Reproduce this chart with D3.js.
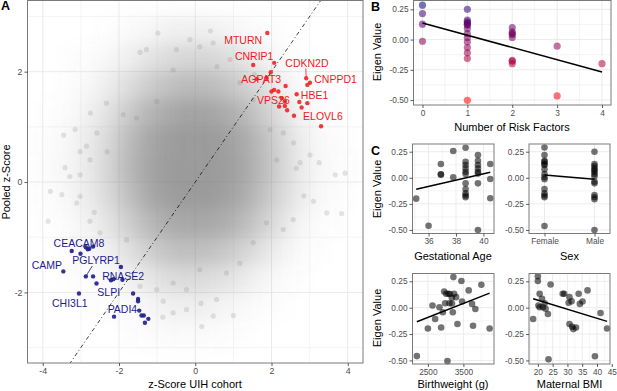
<!DOCTYPE html>
<html><head><meta charset="utf-8">
<script src="https://cdn.jsdelivr.net/npm/d3@7"></script>
<style>
body{margin:0;background:#fff;}
svg{display:block;font-family:"Liberation Sans",Arial,sans-serif;}
</style></head><body>
<svg id="c" width="617" height="391"></svg>
<script>
// ---------- Panel A data ----------
const cloudX = [-0.98,0.4,-2.33,-3.8,-3.42,-3.29,-3.02,-1.89,-1.54,-1.01,-0.49,-0.14,-1.28,-0.58,3.93,3.67,3.01,2.75,2.58,2.31,2.14,1.96,1.52,1.17,0.91,0.47,0.12,0.57,-3.02,-2.31,-2.76,-2.58,
  -3.86,-3.11,-2.76,-2.5,-1.8,-1.45,-1.01,-0.84,-0.58,-0.23,0.17,0.47,1.0,0.56,-0.58,3.45,3.84,3.1,2.31,1.87,1.52,2.57,1.17,0.82,0.12,-0.23,-3.02,-3.5,
  -2.85,-2.65,-3.15,-2.75,2.85,2.65,-1.45,1.55,0.15,-0.85,3.25,-3.45];
const cloudY = [2.7,2.74,1.43,-0.17,0.26,0.1,0.55,1.22,1.16,1.46,2.4,2.58,2.4,2.03,0.16,0.13,0.49,0.35,0.71,0.89,0.4,0.95,1.49,1.8,2.22,2.52,2.45,2.09,0.13,0.55,0.4,0.89,
  -0.71,-0.38,-0.71,-0.92,-1.05,-1.89,-1.95,-2.16,-2.37,-2.31,-2.62,-2.43,-2.42,-2.13,-1.83,-0.56,-0.57,-0.35,-0.86,-0.74,-1.1,-0.68,-1.47,-1.65,-1.59,-1.95,-0.26,-0.23,
  0.65,-0.55,0.95,1.25,-0.25,0.25,2.35,1.95,-2.2,-2.45,0.35,0.85];
const densityXCenters = [-4.25,-3.75,-3.25,-2.75,-2.25,-1.75,-1.25,-0.75,-0.25,0.25,0.75,1.25,1.75,2.25,2.75,3.25,3.75,4.25];
const densityYCenters = [3.25,2.75,2.25,1.75,1.25,0.75,0.25,-0.25,-0.75,-1.25,-1.75,-2.25,-2.75,-3.25];
const densityValues = [
 [0,0,0,0,0,0,0,0,0,0,0,0,0,0,0,0,0,0],
 [0,0,0,0,0.02,0.05,0.09,0.13,0.15,0.15,0.12,0.07,0.03,0.01,0,0,0,0],
 [0,0,0.01,0.03,0.08,0.15,0.25,0.34,0.4,0.4,0.34,0.25,0.14,0.06,0.02,0,0,0],
 [0,0,0.03,0.08,0.18,0.33,0.48,0.6,0.67,0.67,0.6,0.48,0.33,0.16,0.06,0.02,0,0],
 [0,0.02,0.06,0.15,0.3,0.52,0.7,0.83,0.9,0.9,0.83,0.7,0.52,0.3,0.12,0.05,0.01,0],
 [0.01,0.04,0.1,0.21,0.4,0.65,0.85,0.96,1,1,0.96,0.85,0.65,0.4,0.18,0.07,0.03,0],
 [0.02,0.05,0.11,0.23,0.43,0.68,0.88,0.98,1,1,0.98,0.88,0.68,0.43,0.2,0.08,0.04,0.01],
 [0.01,0.04,0.1,0.2,0.38,0.62,0.83,0.95,0.99,0.99,0.94,0.83,0.62,0.38,0.18,0.07,0.03,0],
 [0,0.02,0.06,0.14,0.27,0.48,0.67,0.8,0.86,0.86,0.8,0.67,0.48,0.27,0.11,0.04,0.01,0],
 [0,0,0.03,0.07,0.15,0.3,0.46,0.58,0.63,0.62,0.55,0.43,0.27,0.13,0.05,0.01,0,0],
 [0,0,0.01,0.03,0.06,0.13,0.23,0.32,0.37,0.35,0.29,0.2,0.11,0.05,0.01,0,0,0],
 [0,0,0,0.01,0.02,0.05,0.09,0.14,0.16,0.15,0.11,0.07,0.03,0.01,0,0,0,0],
 [0,0,0,0,0,0.01,0.03,0.05,0.06,0.05,0.03,0.01,0,0,0,0,0,0],
 [0,0,0,0,0,0,0,0,0,0,0,0,0,0,0,0,0,0]];
const upX = [1.89,1.52,2.07,1.98,1.87,1.61,2.91,3.01,2.94,2.37,2.0,2.07,2.18,2.66,2.27,2.35,2.73,2.94,2.2,2.35,2.79,2.41,2.59,3.3];
const upY = [2.70,2.12,2.16,1.99,1.89,1.87,1.88,1.80,1.76,1.74,1.64,1.67,1.64,1.59,1.52,1.46,1.45,1.43,1.37,1.38,1.35,1.30,1.20,1.01];
const upLabels = ["MTURN","CNRIP1","CDKN2D","AGPAT3","CNPPD1","HBE1","VPS26","ELOVL6"];
const upLabelX = [1.257,1.545,2.93,1.73,3.68,3.13,2.05,3.35];
const upLabelY = [2.575,2.285,2.158,1.868,1.868,1.578,1.487,1.197];
const downX = [-3.24,-3.01,-2.87,-2.78,-2.68,-2.82,-3.46,-2.87,-2.68,-2.59,-1.95,-2.21,-2.15,-1.91,-1.63,-1.5,-1.5,-3.05,-1.47,-1.41,-1.35,-1.23,-1.32,-2.13];
const downY = [-1.25,-1.30,-1.18,-1.21,-1.17,-1.22,-1.62,-1.71,-1.71,-1.84,-1.54,-1.78,-1.76,-1.77,-2.02,-2.12,-2.16,-2.02,-2.33,-2.42,-2.42,-2.48,-2.55,-2.44];
const downLabels = ["CEACAM8","CAMP","PGLYRP1","RNASE2","SLPI","CHI3L1","PADI4"];
const downLabelX = [-3.05,-3.89,-2.6,-1.89,-2.27,-3.29,-1.91];
const downLabelY = [-1.106,-1.505,-1.414,-1.70,-1.995,-2.19,-2.30];
const leaderSegs = [[2.91,1.88,2.90,2.06],[-2.87,-1.71,-2.70,-1.52]];
const aXTicks = [-4,-2,0,2,4], aYTicks = [-2,0,2];

// ---------- Panel B data ----------
const riskFactors = [0,0,0,0, 1,1,1,1,1,1,1,1,1,1,1,1,1,1, 2,2,2,2,2,2,2,2, 3,3, 4];
const riskEigen = [0.284,0.215,0.127,-0.014, 0.25,0.16,0.147,0.136,0.12,0.125,0.091,0.05,0.017,-0.02,-0.066,-0.11,-0.157,-0.502,
  0.099,0.063,0.05,0.041,0.017,-0.171,-0.18,-0.199, -0.055,-0.466, -0.199];
const riskFit = [[0,0.137],[4,-0.268]];
const eigenTicks = [-0.5,-0.25,0,0.25];

// ---------- Panel C data ----------
const gestAge = [35.1,36.0,36.9,36.9,36.9,37.8,37.8, 38.7,38.7,38.7,38.7,38.7,38.7,38.7,38.7,38.7,38.7,38.7, 39.6,39.6,39.6,39.6,39.6,39.6,39.6,39.6, 40.5,40.5,40.5];
const gestEigen = [-0.2,-0.46,0.132,0.033,0.03,0.257,0.005, 0.288,0.154,0.122,0.09,0.058,0.036,-0.053,-0.107,-0.149,-0.17,-0.187, 0.218,0.164,0.122,0.09,0.058,0.04,-0.053,-0.5, 0.132,-0.012,-0.196];
const gestFit = [[35.1,-0.11],[40.5,0.053]];
const sexCats = ["Female","Male"];
const sexVal = ["Female","Female","Female","Female","Female","Female","Female","Female","Female","Female","Female","Female","Female","Female","Female",
  "Male","Male","Male","Male","Male","Male","Male","Male","Male","Male","Male","Male","Male","Male"];
const sexEigen = [0.29,0.218,0.164,0.154,0.132,0.122,0.081,0.036,0.005,-0.014,-0.107,-0.149,-0.17,-0.187,-0.462,
  0.25,0.132,0.113,0.09,0.074,0.058,0.036,0.016,-0.037,-0.053,-0.165,-0.187,-0.206,-0.5];
const sexFit = [["Female",0.027],["Male",-0.014]];
const birthWeight = [2190,2500,2630,2705,2826,2874,2921,2958,2986,3014,3051,3079,3107,3174,3202,3219,3239,3295,3332,3444,3463,3650,3744,3772,3837,4006,4239,3180,3120];
const bwEigen = [-0.459,-0.197,0.02,-0.107,0.004,-0.188,-0.044,0.154,0.042,0.132,-0.507,0.132,0.042,0.094,-0.044,0.29,0.132,0.1,-0.155,0.253,0.058,0.164,0.036,-0.171,-0.012,0.218,-0.197,0.04,0.13];
const bwFit = [[2190,-0.133],[4239,0.138]];
const bmi = [18.4,20,20,20.2,20.6,20.6,21.4,21.7,22.3,22.6,23.6,24.3,23.4,28.4,28.9,30.4,30.7,31.4,30.7,31.6,32,32.9,33.8,34.2,35.1,36.8,39.3,41.2,43.4];
const bmiEigen = [-0.107,0.298,0.253,0.02,0.132,0.004,0.084,0.004,0.042,-0.01,-0.49,0.22,-0.06,0.132,0.132,0.046,0.1,0.06,-0.155,-0.181,-0.203,-0.188,0.132,0.036,0.058,0.164,-0.46,-0.05,-0.197];
const bmiFit = [[18.4,0.084],[43.4,-0.13]];

// ---------- drawing ----------
const svg = d3.select("#c");
const FONT = '"Liberation Sans",Arial,sans-serif';
const GRID = "#ebebeb", BORDER = "#7a7a7a", TICKTXT = "#4d4d4d";

function panel(o){
  const g = svg.append("g");
  const x = o.x, y = o.y;
  g.append("rect").attr("x",o.l).attr("y",o.t).attr("width",o.r-o.l).attr("height",o.b-o.t).attr("fill","#fff");
  const grid = g.append("g");
  (o.xMinor||[]).forEach(v=>grid.append("line").attr("x1",x(v)).attr("x2",x(v)).attr("y1",o.t).attr("y2",o.b).attr("stroke",GRID).attr("stroke-width",0.5));
  (o.yMinor||[]).forEach(v=>grid.append("line").attr("y1",y(v)).attr("y2",y(v)).attr("x1",o.l).attr("x2",o.r).attr("stroke",GRID).attr("stroke-width",0.5));
  o.xMajor.forEach(v=>{ const p=x(v); if(p>=o.l&&p<=o.r) grid.append("line").attr("x1",p).attr("x2",p).attr("y1",o.t).attr("y2",o.b).attr("stroke",GRID).attr("stroke-width",1);});
  o.yMajor.forEach(v=>grid.append("line").attr("y1",y(v)).attr("y2",y(v)).attr("x1",o.l).attr("x2",o.r).attr("stroke",GRID).attr("stroke-width",1));
  const content = g.append("g");
  const frame = g.append("g");
  frame.append("rect").attr("x",o.l).attr("y",o.t).attr("width",o.r-o.l).attr("height",o.b-o.t).attr("fill","none").attr("stroke",BORDER).attr("stroke-width",1);
  const ax = frame.append("g").attr("transform",`translate(0,${o.b})`)
    .call(d3.axisBottom(x).tickValues(o.xMajor).tickSize(3).tickPadding(2).tickFormat(o.xFmt||(d=>d)));
  const ay = frame.append("g").attr("transform",`translate(${o.l},0)`)
    .call(d3.axisLeft(y).tickValues(o.yMajor).tickSize(3).tickPadding(2).tickFormat(o.yFmt||(d=>d)));
  [ax,ay].forEach(a=>{
    a.select(".domain").remove();
    a.selectAll("line").attr("stroke","#333").attr("stroke-width",0.8);
    a.selectAll("text").attr("fill",TICKTXT).style("font-family",FONT).style("font-size",(o.tickSize||8.3)+"px");
  });
  return content;
}
function fmtE(d){ return d3.format(".2f")(d).replace("−","-"); }

// ----- Panel A -----
const A = {l:27.5,r:363,t:0.5,b:363};
const ax = d3.scaleLinear().domain([-4.4,4.4]).range([A.l,A.r]);
const ay = d3.scaleLinear().domain([-3.28,3.29]).range([A.b,A.t]);
svg.append("defs").html(`<clipPath id="clipA"><rect x="${A.l}" y="${A.t}" width="${A.r-A.l}" height="${A.b-A.t}"/></clipPath>
 <filter id="blurA" filterUnits="userSpaceOnUse" x="0" y="0" width="400" height="400"><feGaussianBlur stdDeviation="8"/></filter>`);
const cA = panel({...A,x:ax,y:ay,xMajor:aXTicks,xMinor:[-3,-1,1,3],yMajor:aYTicks,yMinor:[-3,-1,1,3],tickSize:8.8});
cA.attr("clip-path","url(#clipA)");
const dens = cA.append("g").attr("filter","url(#blurA)");
densityValues.forEach((row,i)=>row.forEach((v,j)=>{
  if(v<=0) return;
  const cx = densityXCenters[j], cy = densityYCenters[i];
  dens.append("rect").attr("x",ax(cx-0.25)).attr("y",ay(cy+0.25))
    .attr("width",ax(cx+0.25)-ax(cx-0.25)).attr("height",ay(cy-0.25)-ay(cy+0.25))
    .attr("fill","#7f7f7f").attr("fill-opacity",v*0.8);
}));
cA.append("g").selectAll("circle").data(cloudX.map((d,i)=>[d,cloudY[i]])).join("circle")
  .attr("cx",d=>ax(d[0])).attr("cy",d=>ay(d[1])).attr("r",2.6).attr("fill","#7f7f7f").attr("fill-opacity",0.2);
// identity line
cA.append("line").attr("x1",ax(-4.4)).attr("y1",ay(-4.4)).attr("x2",ax(4.4)).attr("y2",ay(4.4))
  .attr("stroke","#111").attr("stroke-width",0.8).attr("stroke-dasharray","1,2.5,4,2.5");
const RED="#f0181c", BLUE="#1c1c8c";
cA.append("g").selectAll("text").data(upLabels).join("text")
  .attr("x",(d,i)=>ax(upLabelX[i])).attr("y",(d,i)=>ay(upLabelY[i])).attr("dy","0.36em").attr("text-anchor","middle")
  .attr("fill",RED).style("font-size","10.5px").text(d=>d);
cA.append("g").selectAll("text").data(downLabels).join("text")
  .attr("x",(d,i)=>ax(downLabelX[i])).attr("y",(d,i)=>ay(downLabelY[i])).attr("dy","0.36em").attr("text-anchor","middle")
  .attr("fill",BLUE).style("font-size","10.5px").text(d=>d);
leaderSegs.forEach((s,i)=>cA.append("line").attr("x1",ax(s[0])).attr("y1",ay(s[1])).attr("x2",ax(s[2])).attr("y2",ay(s[3]))
  .attr("stroke",i===0?RED:BLUE).attr("stroke-width",0.8));
cA.append("g").selectAll("circle").data(upX.map((d,i)=>[d,upY[i]])).join("circle")
  .attr("cx",d=>ax(d[0])).attr("cy",d=>ay(d[1])).attr("r",2.2).attr("fill",RED).attr("fill-opacity",0.85);
cA.append("g").selectAll("circle").data(downX.map((d,i)=>[d,downY[i]])).join("circle")
  .attr("cx",d=>ax(d[0])).attr("cy",d=>ay(d[1])).attr("r",2.2).attr("fill",BLUE).attr("fill-opacity",0.9);

function title(x,y,t,rot,size){
  const e = svg.append("text").attr("text-anchor","middle").attr("fill","#000").style("font-size",(size||11)+"px").text(t);
  if(rot) e.attr("transform",`translate(${x},${y}) rotate(-90)`); else e.attr("x",x).attr("y",y);
  return e;
}
title(195,388,"z-Score UIH cohort");
title(10,182,"Pooled z-Score",true);
svg.append("text").attr("x",1).attr("y",10).style("font-size","12.5px").style("font-weight","bold").text("A");

// ----- Panel B -----
const B = {l:413.5,r:611,t:0.5,b:105};
const bx = d3.scaleLinear().domain([-0.2,4.2]).range([B.l,B.r]);
const by = d3.scaleLinear().domain([-0.541,0.323]).range([B.b,B.t]);
const eMinor = [-0.375,-0.125,0.125];
const cB = panel({...B,x:bx,y:by,xMajor:[0,1,2,3,4],xMinor:[0.5,1.5,2.5,3.5],yMajor:eigenTicks,yMinor:eMinor,yFmt:fmtE});
const colB = d3.scaleLinear().domain([-0.5,0.29]).range(["#ff0000","#000080"]).interpolate(d3.interpolateLab);
cB.selectAll("circle").data(riskFactors.map((d,i)=>[d,riskEigen[i]])).join("circle")
  .attr("cx",d=>bx(d[0])).attr("cy",d=>by(d[1])).attr("r",3.6).attr("fill",d=>colB(d[1])).attr("fill-opacity",0.55);
cB.append("line").attr("x1",bx(riskFit[0][0])).attr("y1",by(riskFit[0][1])).attr("x2",bx(riskFit[1][0])).attr("y2",by(riskFit[1][1]))
  .attr("stroke","#000").attr("stroke-width",1.5);
title(512,131,"Number of Risk Factors");
title(381,52,"Eigen Value",true);
svg.append("text").attr("x",371).attr("y",11).style("font-size","12.5px").style("font-weight","bold").text("B");

// ----- Panel C -----
const C1 = {l:412.5,r:494,t:144,b:233.5};
const C2 = {l:529,r:610,t:144,b:233.5};
const C3 = {l:412.5,r:494,t:273.5,b:364};
const C4 = {l:529,r:610,t:273.5,b:364};
const cy1 = d3.scaleLinear().domain([-0.534,0.324]).range([C1.b,C1.t]);
const cy3 = d3.scaleLinear().domain([-0.534,0.324]).range([C3.b,C3.t]);
const gx = d3.scaleLinear().domain([34.83,40.77]).range([C1.l,C1.r]);
const sx = d3.scalePoint().domain(sexCats).range([C2.l,C2.r]).padding(0.31);
const wx = d3.scaleLinear().domain([2067,4362]).range([C3.l,C3.r]);
const mx = d3.scaleLinear().domain([17,44.4]).range([C4.l,C4.r]);
function dots(c,xs,ys,xa,ya){
  c.selectAll("circle.p").data(xs.map((d,i)=>[d,ys[i]])).join("circle").attr("class","p")
    .attr("cx",d=>xa(d[0])).attr("cy",d=>ya(d[1])).attr("r",3.3).attr("fill","#000").attr("fill-opacity",0.55);
}
function fit(c,f,xa,ya){
  c.append("line").attr("x1",xa(f[0][0])).attr("y1",ya(f[0][1])).attr("x2",xa(f[1][0])).attr("y2",ya(f[1][1]))
    .attr("stroke","#000").attr("stroke-width",1.5);
}
const k1 = panel({...C1,x:gx,y:cy1,xMajor:[36,38,40],xMinor:[35,37,39],yMajor:eigenTicks,yMinor:eMinor,yFmt:fmtE});
dots(k1,gestAge,gestEigen,gx,cy1); fit(k1,gestFit,gx,cy1);
const k2 = panel({...C2,x:sx,y:cy1,xMajor:sexCats,yMajor:eigenTicks,yMinor:eMinor,yFmt:fmtE});
dots(k2,sexVal,sexEigen,sx,cy1); fit(k2,sexFit,sx,cy1);
const k3 = panel({...C3,x:wx,y:cy3,xMajor:[2500,3500],xMinor:[3000,4000],yMajor:eigenTicks,yMinor:eMinor,yFmt:fmtE});
dots(k3,birthWeight,bwEigen,wx,cy3); fit(k3,bwFit,wx,cy3);
const k4 = panel({...C4,x:mx,y:cy3,xMajor:[20,25,30,35,40,45],xMinor:[17.5,22.5,27.5,32.5,37.5,42.5],yMajor:eigenTicks,yMinor:eMinor,yFmt:fmtE});
dots(k4,bmi,bmiEigen,mx,cy3); fit(k4,bmiFit,mx,cy3);
title(453,260,"Gestational Age");
title(569.5,260,"Sex");
title(453,388,"Birthweight (g)");
title(569.5,388,"Maternal BMI");
title(381,189,"Eigen Value",true);
title(381,318,"Eigen Value",true);
svg.append("text").attr("x",371).attr("y",155).style("font-size","12.5px").style("font-weight","bold").text("C");
</script></body></html>
